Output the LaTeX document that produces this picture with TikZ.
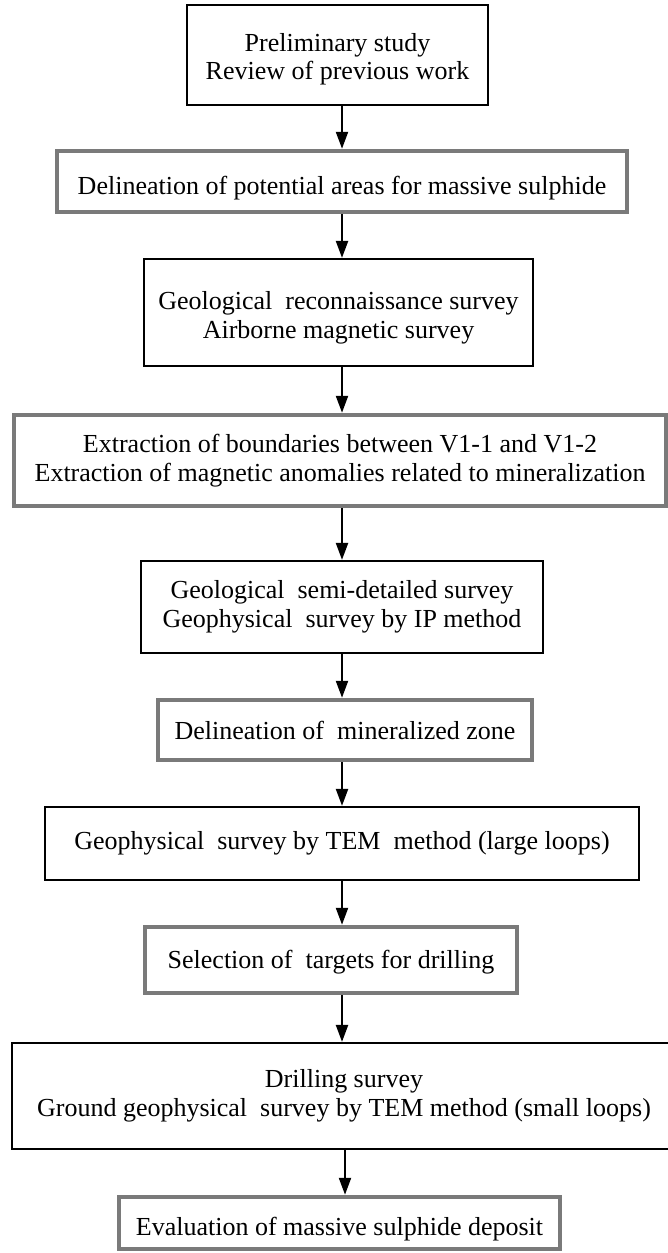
\documentclass[tikz,border=0pt]{standalone}
\usepackage{fontspec}
\setmainfont{Liberation Serif}
\usetikzlibrary{arrows.meta}
\newcommand\lowt[2]{\raisebox{-#1}[\height][\depth]{\begin{tabular}{@{}c@{}}#2\end{tabular}}}
\begin{document}
\begin{tikzpicture}[x=1pt,y=-1pt,
  txt/.style={inner sep=0pt, align=center, font=\fontsize{26}{28.5}\selectfont},
  blackbox/.style={txt, draw=black, line width=2.2pt},
  graybox/.style={txt, draw=black!52, line width=4.5pt},
  arr/.style={line width=2.2pt, -{Triangle[length=17pt,width=12pt]}}]
\useasboundingbox (0,0) rectangle (668,1253);
\fill[white] (0,0) rectangle (668,1253);
\clip (0,0) rectangle (668,1253);
\coordinate (ax) at (342,0);
\coordinate (bx) at (345,0);
\node[blackbox, minimum width=301pt, minimum height=100pt] (b1) at (337.5,55)
  {\lowt{5pt}{Preliminary study\\Review of previous work}};
\node[graybox, minimum width=570pt, minimum height=61pt] (b2) at (342,181.5)
  {\lowt{7pt}{Delineation of potential areas for massive sulphide}};
\node[blackbox, minimum width=389pt, minimum height=107pt] (b3) at (338.5,312.5)
  {\lowt{6pt}{Geological\ \ reconnaissance survey\\Airborne magnetic survey}};
\node[graybox, minimum width=652pt, minimum height=91pt] (b4) at (340,460.5)
  {Extraction of boundaries between V1-1 and V1-2\\Extraction of magnetic anomalies related to mineralization};
\node[blackbox, minimum width=402pt, minimum height=92pt] (b5) at (342,607)
  {Geological\ \ semi-detailed survey\\Geophysical\ \ survey by IP method};
\node[graybox, minimum width=374pt, minimum height=60pt] (b6) at (345,730)
  {Delineation of\ \ mineralized zone};
\node[blackbox, minimum width=594pt, minimum height=73pt] (b7) at (342,843.5)
  {Geophysical\ \ survey by TEM\ \ method (large loops)};
\node[graybox, minimum width=372pt, minimum height=66pt] (b8) at (331,960)
  {\lowt{3pt}{Selection of\ \ targets for drilling}};
\node[blackbox, minimum width=664pt, minimum height=106pt] (b9) at (344,1096)
  {Drilling survey\\Ground geophysical\ \ survey by TEM method (small loops)};
\node[graybox, minimum width=441pt, minimum height=52pt] (b10) at (339.5,1223)
  {\lowt{7pt}{Evaluation of massive sulphide deposit}};
\draw[arr] (b1.south -| ax) -- (b2.north -| ax);
\draw[arr] (b2.south -| ax) -- (b3.north -| ax);
\draw[arr] (b3.south -| ax) -- (b4.north -| ax);
\draw[arr] (b4.south -| ax) -- (b5.north -| ax);
\draw[arr] (b5.south -| ax) -- (b6.north -| ax);
\draw[arr] (b6.south -| ax) -- (b7.north -| ax);
\draw[arr] (b7.south -| ax) -- (b8.north -| ax);
\draw[arr] (b8.south -| ax) -- (b9.north -| ax);
\draw[arr] (b9.south -| bx) -- (b10.north -| bx);
\end{tikzpicture}
\end{document}
